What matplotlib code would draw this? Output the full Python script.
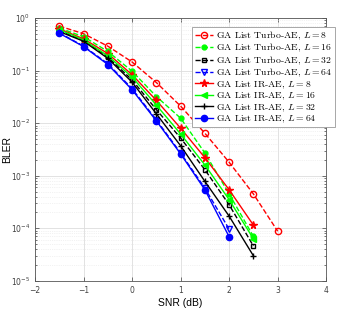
#program to plot BLER vs SNR curves for GA list decoders

import matplotlib
matplotlib.use('Agg')
import matplotlib.pyplot as plt
import numpy as np

########################################################################
### data ###
########################################################################

snr_turbo8 = [-1.5, -1, -0.5, 0, 0.5, 1, 1.5, 2, 2.5, 3]
bler_turbo8 = [0.70, 0.50, 0.29, 0.145, 0.059, 0.021, 0.0064, 0.0018, 0.00045, 0.000088]

snr_turbo16 = [-1.5, -1, -0.5, 0, 0.5, 1, 1.5, 2, 2.5]
bler_turbo16 = [0.64, 0.44, 0.23, 0.097, 0.032, 0.0124, 0.0027, 0.00045, 0.00007]

snr_turbo32 = [-1.5, -1, -0.5, 0, 0.5, 1, 1.5, 2, 2.5]
bler_turbo32 = [0.58, 0.37, 0.18, 0.066, 0.018, 0.0052, 0.0013, 0.00028, 0.000046]

snr_turbo64 = [-1.5, -1, -0.5, 0, 0.5, 1, 1.5, 2]
bler_turbo64 = [0.52, 0.29, 0.135, 0.045, 0.0115, 0.0027, 0.00058, 0.000096]

snr_ir8 = [-1.5, -1, -0.5, 0, 0.5, 1, 1.5, 2, 2.5]
bler_ir8 = [0.62, 0.40, 0.21, 0.083, 0.027, 0.0080, 0.0022, 0.00054, 0.000115]

snr_ir16 = [-1.5, -1, -0.5, 0, 0.5, 1, 1.5, 2, 2.5]
bler_ir16 = [0.60, 0.38, 0.19, 0.075, 0.022, 0.0062, 0.0016, 0.00035, 0.000063]

snr_ir32 = [-1.5, -1, -0.5, 0, 0.5, 1, 1.5, 2, 2.5]
bler_ir32 = [0.55, 0.36, 0.17, 0.060, 0.015, 0.0037, 0.00078, 0.00017, 0.00003]

snr_ir64 = [-1.5, -1, -0.5, 0, 0.5, 1, 1.5, 2]
bler_ir64 = [0.51, 0.285, 0.13, 0.043, 0.011, 0.0026, 0.00054, 0.000069]

labels = ['GA List Turbo-AE, $L = 8$', 'GA List Turbo-AE, $L = 16$',
          'GA List Turbo-AE, $L = 32$', 'GA List Turbo-AE, $L = 64$',
          'GA List IR-AE, $L = 8$', 'GA List IR-AE, $L = 16$',
          'GA List IR-AE, $L = 32$', 'GA List IR-AE, $L = 64$']

########################################################################
### plot ###
########################################################################

plt.rcParams['mathtext.fontset'] = 'cm'

fig = plt.figure(figsize=(3.62, 3.09), dpi=100)
ax = fig.add_axes([0.097, 0.091, 0.804, 0.851])

ms = 4.5
ax.plot(snr_turbo8, bler_turbo8, color='red', ls='--', lw=1, marker='o',
        mfc='none', ms=ms, label=labels[0])
ax.plot(snr_turbo16, bler_turbo16, color='lime', ls='--', lw=1, marker='o',
        ms=3.5, label=labels[1])
ax.plot(snr_turbo32, bler_turbo32, color='black', ls='--', lw=1, marker='s',
        mfc='none', ms=3.5, label=labels[2])
ax.plot(snr_turbo64, bler_turbo64, color='blue', ls='--', lw=1, marker='v',
        mfc='none', ms=ms, label=labels[3])
ax.plot(snr_ir8, bler_ir8, color='red', ls='-', lw=1, marker='*',
        ms=5.5, label=labels[4])
ax.plot(snr_ir16, bler_ir16, color='lime', ls='-', lw=1, marker='<',
        ms=ms, label=labels[5])
ax.plot(snr_ir32, bler_ir32, color='black', ls='-', lw=1, marker='+',
        ms=ms, label=labels[6])
ax.plot(snr_ir64, bler_ir64, color='blue', ls='-', lw=1, marker='o',
        ms=ms, label=labels[7])

ax.set_yscale('log')
ax.set_xlim(-2, 4)
ax.set_ylim(1e-5, 1)
ax.set_xticks([-2, -1, 0, 1, 2, 3, 4])

ax.grid(True, which='major', color='#dddddd', lw=0.6)
ax.grid(True, which='minor', color='#e6e6e6', lw=0.5, ls=':')
ax.tick_params(which='both', direction='in', top=True, right=True,
               labelsize=5.5, colors='#404040', width=0.5)
ax.tick_params(which='major', length=3)
ax.tick_params(which='minor', length=1.5)
for s in ax.spines.values():
    s.set_color('#555555')
    s.set_linewidth(0.6)

ax.set_xlabel('SNR (dB)', fontsize=7.5, family='Liberation Sans', labelpad=2)
ax.set_ylabel('BLER', fontsize=7.5, family='Liberation Sans')
ax.yaxis.set_label_coords(-0.078, 0.5)

leg = ax.legend(loc='upper right', bbox_to_anchor=(1.03, 0.966),
                borderaxespad=0, prop={'family': 'cmr10', 'size': 7},
                handlelength=1.9, labelspacing=0.0, borderpad=0.25,
                handletextpad=0.3, fancybox=False, framealpha=1)
leg.get_frame().set_edgecolor('#999999')
leg.get_frame().set_linewidth(0.6)

fig.savefig('out.png', dpi=100)
